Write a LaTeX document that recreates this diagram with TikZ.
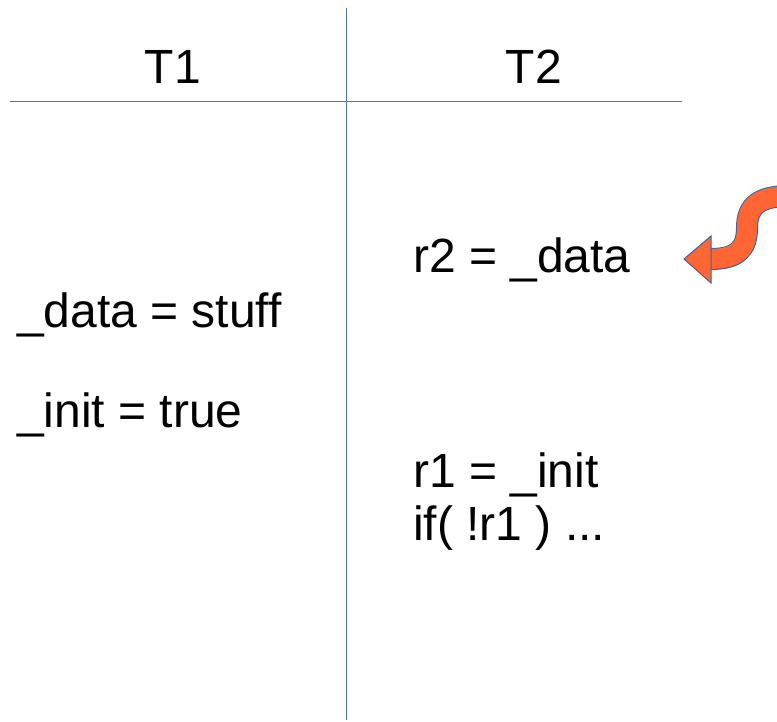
\documentclass[tikz,border=0pt]{standalone}
\usepackage{fontspec}
\setmainfont{Liberation Sans}
\definecolor{linecol}{RGB}{80,120,190}
\definecolor{arrfill}{RGB}{255,102,51}
\definecolor{arredge}{RGB}{52,101,164}
\tikzset{
  lbl/.style={inner sep=0pt, anchor=base west, font=\fontsize{48}{54}\selectfont},
  hdr/.style={inner sep=0pt, anchor=base, font=\fontsize{48}{54}\selectfont},
  rule/.style={draw=linecol, line width=1pt},
}
\begin{document}
\begin{tikzpicture}[x=1pt,y=-1pt]
\useasboundingbox (0,0) rectangle (777,722);
% table lines
\coordinate (vt) at (346,8);
\coordinate (vb) at (346,720);
\coordinate (hl) at (10,102);
\coordinate (hr) at (682,102);
\draw[rule] (vt) -- (vb);
\draw[rule] (hl) -- (hr);
% headers
\node[hdr] (t1) at (173,84) {T1};
\node[hdr] (t2) at (534,84) {T2};
% T1 code
\node[lbl] (a1) at (17,327) {\_data = stuff};
\node[lbl] (a2) at (17,427) {\_init = true};
% T2 code
\node[lbl] (b1) at (413,273) {r2 = \_data};
\node[lbl] (b2) at (413,487) {r1 = \_init};
\node[lbl] (b3) at (413,540) {if( !r1 ) ...};
% curved arrow
\coordinate (as) at (711,259);
\coordinate (am) at (747,228);
\coordinate (ae) at (790,196);
\draw[arredge, line width=22pt] (as) .. controls (738,259) and (747,248) .. (am) .. controls (747,205) and (760,196) .. (ae);
\draw[arrfill, line width=20pt] (709,259) .. controls (738,259) and (747,248) .. (am) .. controls (747,205) and (760,196) .. (ae);
\filldraw[fill=arrfill, draw=arredge, line width=1pt] (684,259) -- (711,236) -- (711,283) -- cycle;
\end{tikzpicture}
\end{document}
